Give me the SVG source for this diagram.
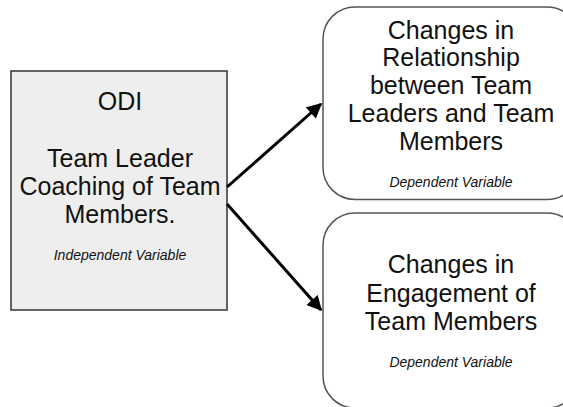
<svg xmlns="http://www.w3.org/2000/svg" width="563" height="407" viewBox="0 0 563 407">
<style>
.t{font-family:"Liberation Sans",Arial,sans-serif;font-size:25px;fill:#111;text-anchor:middle}
.s{font-family:"Liberation Sans",Arial,sans-serif;font-size:14px;font-style:italic;fill:#111;text-anchor:middle}
.rb{fill:#fff;stroke:#555;stroke-width:1.5}
.c{stroke:#000;stroke-width:3;fill:none;marker-end:url(#ah)}
</style>
<defs>
<marker id="ah" viewBox="0 0 10 10" refX="9" refY="5" markerWidth="5.5" markerHeight="5" orient="auto" markerUnits="strokeWidth">
<path d="M0,0 L10,5 L0,10 z" fill="#000"/>
</marker>
</defs>
<rect width="563" height="407" fill="#fff"/>
<g id="odi">
<rect x="11" y="71" width="216" height="239" fill="#eeeeee" stroke="#333" stroke-width="1.5"/>
<text class="t" x="120" y="110">ODI</text>
<text class="t" x="120" y="167">Team Leader</text>
<text class="t" x="120" y="195">Coaching of Team</text>
<text class="t" x="120" y="223">Members.</text>
<text class="s" x="120" y="260">Independent Variable</text>
</g>
<g id="relationship">
<rect class="rb" x="323" y="7" width="256" height="192.5" rx="32" ry="32"/>
<text class="t" x="451" y="39">Changes in</text>
<text class="t" x="451" y="66">Relationship</text>
<text class="t" x="451" y="94">between Team</text>
<text class="t" x="451" y="122">Leaders and Team</text>
<text class="t" x="451" y="150">Members</text>
<text class="s" x="451" y="187">Dependent Variable</text>
</g>
<g id="engagement">
<rect class="rb" x="323" y="213" width="256" height="195" rx="32" ry="32"/>
<text class="t" x="451" y="273">Changes in</text>
<text class="t" x="451" y="302">Engagement of</text>
<text class="t" x="451" y="330">Team Members</text>
<text class="s" x="451" y="367">Dependent Variable</text>
</g>
<g id="connectors">
<line class="c" x1="227" y1="187" x2="321" y2="104"/>
<line class="c" x1="227" y1="204" x2="321" y2="310"/>
</g>
</svg>
